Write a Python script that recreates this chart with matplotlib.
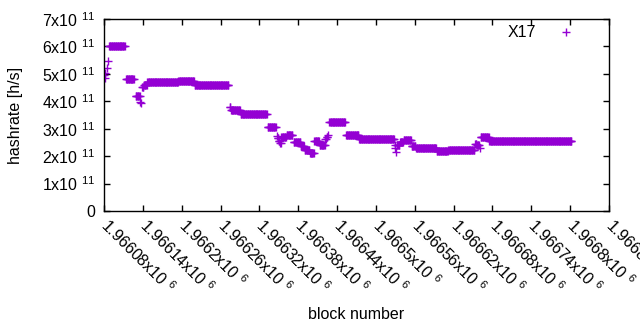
import numpy as np
import matplotlib
matplotlib.use("Agg")
import matplotlib.pyplot as plt

plt.rcParams['font.family'] = ['Liberation Sans', 'DejaVu Sans']
plt.rcParams['mathtext.fontset'] = 'custom'
plt.rcParams['mathtext.rm'] = 'Liberation Sans'
plt.rcParams['mathtext.it'] = 'Liberation Sans'
plt.rcParams['mathtext.bf'] = 'Liberation Sans'

# runs of blocks with the same hashrate (first block, last block, value in 1e11 h/s)
seg_start = [1966080, 1966081, 1966082, 1966084, 1966086, 1966088, 1966114, 1966129,
             1966136, 1966137, 1966139, 1966142, 1966147, 1966195, 1966220, 1966274,
             1966276, 1966291, 1966333, 1966347, 1966348, 1966350, 1966352, 1966354,
             1966362, 1966373, 1966384, 1966390, 1966398, 1966405, 1966413, 1966422,
             1966424, 1966426, 1966428, 1966454, 1966474, 1966529, 1966530, 1966531,
             1966532, 1966537, 1966543, 1966555, 1966562, 1966576, 1966594, 1966612,
             1966633, 1966653, 1966656, 1966660, 1966662, 1966675]
seg_end = [1966080, 1966081, 1966082, 1966084, 1966086, 1966112, 1966126, 1966135,
           1966136, 1966137, 1966141, 1966146, 1966194, 1966219, 1966272, 1966275,
           1966290, 1966331, 1966345, 1966347, 1966349, 1966351, 1966353, 1966361,
           1966371, 1966383, 1966389, 1966397, 1966404, 1966412, 1966421, 1966423,
           1966425, 1966426, 1966452, 1966473, 1966528, 1966529, 1966530, 1966531,
           1966536, 1966542, 1966554, 1966561, 1966575, 1966593, 1966611, 1966632,
           1966652, 1966655, 1966659, 1966660, 1966674, 1966802]
seg_value = [4.95, 4.84, 5.02, 5.20, 5.47, 6.02, 4.83, 4.18,
             3.98, 3.93, 4.52, 4.60, 4.69, 4.74, 4.58, 3.78,
             3.67, 3.55, 3.05, 2.75, 2.65, 2.55, 2.47, 2.69,
             2.76, 2.50, 2.38, 2.24, 2.13, 2.54, 2.41, 2.62,
             2.70, 2.77, 3.26, 2.76, 2.61, 2.41, 2.29, 2.16,
             2.42, 2.52, 2.60, 2.36, 2.31, 2.28, 2.19, 2.21,
             2.22, 2.45, 2.40, 2.29, 2.71, 2.54]

xtick_vals = np.arange(1966080, 1966861, 60)
ytick_vals = np.arange(0, 8e11, 1e11)

blocks = []
hashrate = []
for s, e, v in zip(seg_start, seg_end, seg_value):
    for b in range(s, e + 1):
        blocks.append(b)
        hashrate.append(v * 1e11)

fs = 11.5
fig = plt.figure(figsize=(6.4, 3.3), dpi=100)
ax = fig.add_axes([104/640, 1 - 211/330, 505/640, 192/330])

ax.plot(blocks, hashrate, '+', color='#9400d3', markersize=5.5, mew=1.0, label='X17')

ax.set_xlim(1966080, 1966860)
ax.set_ylim(0, 7e11)

ax.set_xticks(xtick_vals)
ax.set_xticklabels(['%.6gx10 $^{6}$' % (v / 1e6) for v in xtick_vals])
ax.set_yticks(ytick_vals)
ylabels = ['0'] + ['%dx10 $^{11}$' % int(round(v / 1e11)) for v in ytick_vals[1:]]
ax.set_yticklabels(ylabels)

ax.tick_params(direction='in', length=4, width=1, top=True, right=True, labelsize=fs)
ax.tick_params(axis='y', pad=6)
ax.tick_params(axis='x', pad=8)
for lab in ax.get_xticklabels():
    lab.set_rotation(-45)
    lab.set_ha('left')
    lab.set_va('center')
    lab.set_rotation_mode('anchor')
for sp in ax.spines.values():
    sp.set_linewidth(1.0)

ax.set_xlabel('block number', fontsize=fs)
ax.set_ylabel('hashrate [h/s]', fontsize=fs)
ax.xaxis.set_label_coords(0.5, -0.5)
ax.yaxis.set_label_coords(-0.16, 0.5)

ax.legend(loc='upper right', bbox_to_anchor=(0.94, 1.0), frameon=False, markerfirst=False,
          handlelength=0.8, handletextpad=1.5, borderaxespad=0, fontsize=fs)

plt.savefig('out.png', dpi=100)
